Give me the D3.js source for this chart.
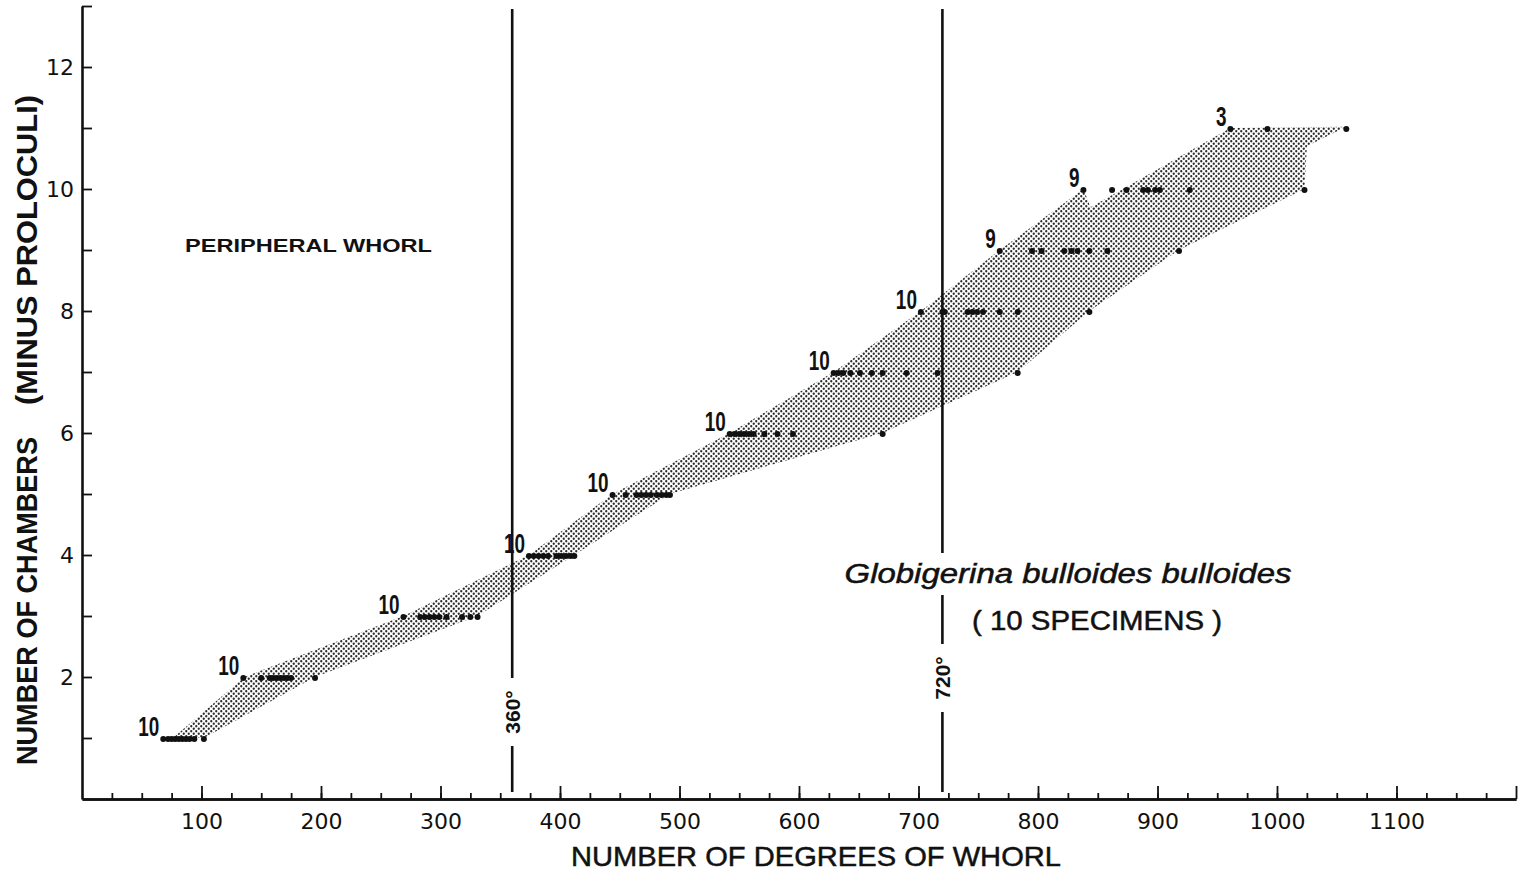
<!DOCTYPE html>
<html>
<head>
<meta charset="utf-8">
<script src="https://cdn.jsdelivr.net/npm/d3@7"></script>
<style>
body { margin: 0; background: #fff; }
svg { display: block; }
</style>
</head>
<body>
<svg></svg>
<script>
var svg_width = 1532
var svg_height = 871

// chamber level, number of specimens counted at that level
var chambers = [1, 2, 3, 4, 5, 6, 7, 8, 9, 10, 11]
var specimens = [10, 10, 10, 10, 10, 10, 10, 10, 9, 9, 3]

// degrees of whorl at which each chamber appears (one value per specimen)
var deg1 = [68, 72, 75, 78, 81, 84, 87, 90, 94, 102]
var deg2 = [135, 150, 157, 160, 163, 166, 169, 172, 175, 195]
var deg3 = [269, 283, 287, 291, 295, 299, 305, 318, 325, 331]
var deg4 = [374, 378, 382, 386, 390, 397, 401, 405, 409, 412]
var deg5 = [444, 455, 464, 468, 472, 476, 481, 485, 489, 492]
var deg6 = [542, 546, 550, 554, 558, 562, 571, 582, 595, 670]
var deg7 = [629, 633, 637, 643, 651, 661, 670, 690, 716, 783]
var deg8 = [702, 720, 722, 741, 745, 749, 754, 768, 783, 843]
var deg9 = [768, 795, 803, 822, 828, 833, 843, 858, 918]
var deg10 = [838, 862, 874, 888, 892, 898, 902, 927, 1023]
var deg11 = [961, 992, 1058]
var degreesByLevel = [deg1, deg2, deg3, deg4, deg5, deg6, deg7, deg8, deg9, deg10, deg11]

// stippled range band: upper edge, then lower edge back
var bandUpperDeg = [76, 136, 269, 374, 444, 542, 629, 702, 768, 838, 844, 961, 1058, 1025]
var bandUpperCh = [1, 2, 3, 4, 5, 6, 7, 8, 9, 10, 9.7, 11, 11.02, 10.7]
var bandLowerDeg = [1023, 918, 843, 783, 670, 492, 412, 331, 195, 102]
var bandLowerCh = [10, 9, 8, 7, 6, 5, 4, 3, 2, 1]

var xTickLabels = [100, 200, 300, 400, 500, 600, 700, 800, 900, 1000, 1100]
var yTickLabels = [2, 4, 6, 8, 10, 12]
var guideDegrees = [360, 720]
var guideLabels = ["360°", "720°"]

var svg = d3.select("svg")
    .attr("width", svg_width)
    .attr("height", svg_height)

//SCALES
var xScale = d3.scaleLinear().domain([0, 1200]).range([82, 1516])
var yScale = d3.scaleLinear().domain([0, 13]).range([799, 6])

// stipple pattern
var pat = svg.append("defs").append("pattern")
    .attr("id", "stipple")
    .attr("width", 5)
    .attr("height", 5)
    .attr("patternUnits", "userSpaceOnUse")
pat.append("circle").attr("cx", 1.25).attr("cy", 1.25).attr("r", 1.15).attr("fill", "#2a2a2a")
pat.append("circle").attr("cx", 3.75).attr("cy", 3.75).attr("r", 1.15).attr("fill", "#2a2a2a")

// band
var bandPts = bandUpperDeg.map(function(d, i) { return [d, bandUpperCh[i]] })
    .concat(bandLowerDeg.map(function(d, i) { return [d, bandLowerCh[i]] }))

var bandLine = d3.line()
    .x(function(d) { return xScale(d[0]) })
    .y(function(d) { return yScale(d[1]) })

svg.append("path")
    .attr("d", bandLine(bandPts) + "Z")
    .attr("fill", "url(#stipple)")
    .attr("stroke", "none")

// AXES
var font = "'Liberation Sans', Arial, sans-serif"

var xMinor = d3.axisBottom(xScale)
    .tickValues(d3.range(25, 1200, 25))
    .tickSizeInner(-6)
    .tickSizeOuter(0)
    .tickFormat("")
var xMajor = d3.axisBottom(xScale)
    .tickValues(d3.range(100, 1201, 100))
    .tickSizeInner(-13)
    .tickSizeOuter(0)
    .tickPadding(14)
    .tickFormat(function(d) { return xTickLabels.indexOf(d) >= 0 ? d : "" })

var yAxis = d3.axisLeft(yScale)
    .tickValues(d3.range(1, 14, 1))
    .tickSizeInner(-10)
    .tickSizeOuter(0)
    .tickPadding(8)
    .tickFormat(function(d) { return yTickLabels.indexOf(d) >= 0 ? d : "" })

svg.append("g")
    .attr("class", "axis")
    .attr("transform", "translate(0, " + yScale(0) + ")")
    .call(xMinor)
svg.append("g")
    .attr("class", "axis")
    .attr("transform", "translate(0, " + yScale(0) + ")")
    .call(xMajor)
svg.append("g")
    .attr("class", "axis")
    .attr("transform", "translate(" + xScale(0) + ", 0)")
    .call(yAxis)

svg.selectAll(".axis .domain").attr("stroke", "#111").attr("stroke-width", 2.6)
svg.selectAll(".axis .tick line").attr("stroke", "#111").attr("stroke-width", 1.8)
svg.selectAll(".axis text")
    .attr("font-family", "'DejaVu Sans', sans-serif")
    .attr("font-size", 22)
    .attr("fill", "#111")

// vertical guides at 360 and 720 degrees
svg.selectAll(".guide")
    .data(guideDegrees)
    .enter()
    .append("line")
      .attr("class", "guide")
      .attr("x1", function(d) { return xScale(d) })
      .attr("x2", function(d) { return xScale(d) })
      .attr("y1", yScale(13) + 3)
      .attr("y2", yScale(0) - 7)
      .attr("stroke", "#111")
      .attr("stroke-width", 2.6)

// gaps in the guide lines for the labels
var guideLabelY = [712, 678]
guideDegrees.forEach(function(d, i) {
    svg.append("rect")
        .attr("x", xScale(d) - 10)
        .attr("y", guideLabelY[i] - 34)
        .attr("width", 20)
        .attr("height", 68)
        .attr("fill", "#fff")
    svg.append("text")
        .attr("transform", "translate(" + (xScale(d) + 8) + "," + guideLabelY[i] + ") rotate(-90)")
        .attr("text-anchor", "middle")
        .attr("font-family", font)
        .attr("font-weight", "bold")
        .attr("font-size", 21)
        .attr("fill", "#111")
        .text(guideLabels[i])
})
svg.append("rect")
    .attr("x", xScale(720) - 5)
    .attr("y", 553)
    .attr("width", 10)
    .attr("height", 42)
    .attr("fill", "#fff")

// data points
var points = []
degreesByLevel.forEach(function(arr, i) {
    arr.forEach(function(d) { points.push({deg: d, ch: chambers[i]}) })
})
svg.selectAll(".pt")
    .data(points)
    .enter()
    .append("circle")
      .attr("class", "pt")
      .attr("cx", function(d) { return xScale(d.deg) })
      .attr("cy", function(d) { return yScale(d.ch) + 1 })
      .attr("r", 3)
      .attr("fill", "#111")

// specimen counts beside first point of each level
svg.selectAll(".count")
    .data(chambers)
    .enter()
    .append("text")
      .attr("class", "count")
      .attr("transform", function(d, i) {
          return "translate(" + (xScale(degreesByLevel[i][0]) - 4) + "," + (yScale(d) - 2) + ") scale(0.7, 1)"
      })
      .attr("text-anchor", "end")
      .attr("font-family", font)
      .attr("font-weight", "bold")
      .attr("font-size", 27)
      .attr("fill", "#111")
      .text(function(d, i) { return specimens[i] })

// TEXT
svg.append("text")
    .attr("x", 185)
    .attr("y", 252)
    .attr("font-family", font)
    .attr("font-weight", "bold")
    .attr("font-size", 18)
    .attr("textLength", 247)
    .attr("lengthAdjust", "spacingAndGlyphs")
    .attr("fill", "#111")
    .text("PERIPHERAL  WHORL")

svg.append("text")
    .attr("x", 1068)
    .attr("y", 583)
    .attr("text-anchor", "middle")
    .attr("font-family", font)
    .attr("font-style", "italic")
    .attr("font-size", 27)
    .attr("textLength", 447)
    .attr("lengthAdjust", "spacingAndGlyphs")
    .attr("fill", "#111")
    .attr("stroke", "#111")
    .attr("stroke-width", 0.5)
    .text("Globigerina bulloides  bulloides")

svg.append("text")
    .attr("x", 1097)
    .attr("y", 630)
    .attr("text-anchor", "middle")
    .attr("font-family", font)
    .attr("font-size", 27)
    .attr("textLength", 250)
    .attr("lengthAdjust", "spacingAndGlyphs")
    .attr("fill", "#111")
    .attr("stroke", "#111")
    .attr("stroke-width", 0.5)
    .text("( 10 SPECIMENS )")

// axis titles
svg.append("text")
    .attr("x", 816)
    .attr("y", 866)
    .attr("text-anchor", "middle")
    .attr("font-family", font)
    .attr("font-size", 28)
    .attr("textLength", 490)
    .attr("lengthAdjust", "spacingAndGlyphs")
    .attr("fill", "#111")
    .attr("stroke", "#111")
    .attr("stroke-width", 0.5)
    .text("NUMBER  OF DEGREES OF WHORL")

svg.append("text")
    .attr("transform", "translate(37, 601) rotate(-90)")
    .attr("text-anchor", "middle")
    .attr("font-family", font)
    .attr("font-weight", "bold")
    .attr("font-size", 30)
    .attr("textLength", 328)
    .attr("lengthAdjust", "spacingAndGlyphs")
    .attr("fill", "#111")
    .text("NUMBER OF CHAMBERS")

svg.append("text")
    .attr("transform", "translate(37, 250) rotate(-90)")
    .attr("text-anchor", "middle")
    .attr("font-family", font)
    .attr("font-weight", "bold")
    .attr("font-size", 30)
    .attr("textLength", 310)
    .attr("lengthAdjust", "spacingAndGlyphs")
    .attr("fill", "#111")
    .text("(MINUS PROLOCULI)")
</script>
</body>
</html>
